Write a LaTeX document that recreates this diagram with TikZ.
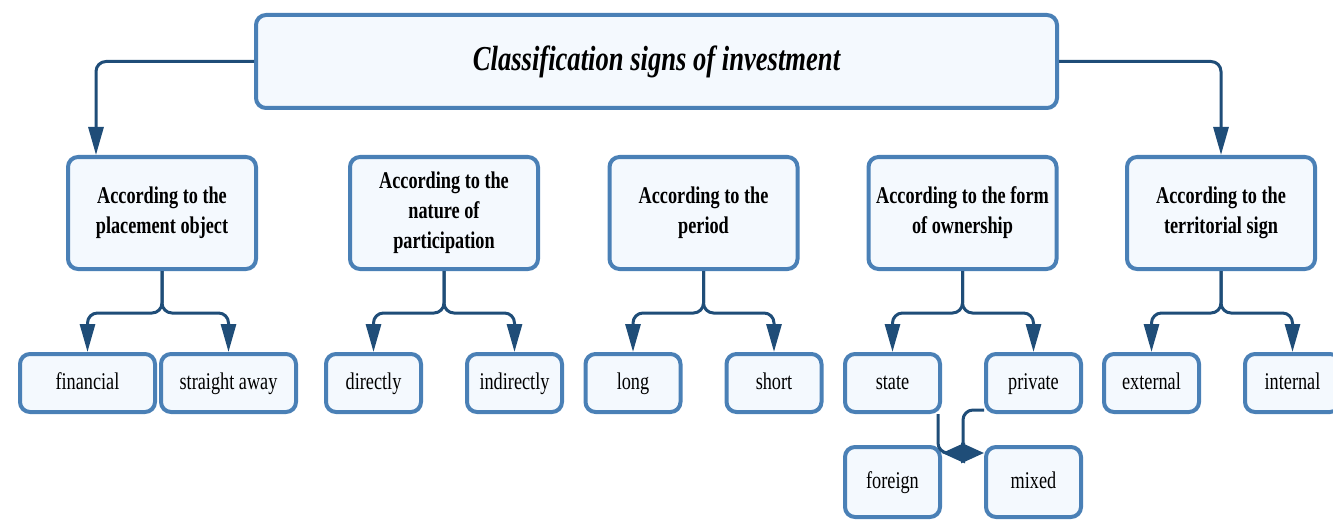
\documentclass[tikz,border=0pt]{standalone}
\usepackage{fontspec}
\setmainfont{Liberation Serif}[FakeStretch=0.76]
\usepackage{tikz}
\usetikzlibrary{positioning}
\usetikzlibrary{arrows.meta}
\definecolor{boxline}{RGB}{74,128,182}
\definecolor{boxfill}{RGB}{244,249,254}
\definecolor{linkline}{RGB}{31,77,120}

\begin{document}
\begin{tikzpicture}[x=0.5pt,y=-0.5pt,
  box/.style={draw=boxline,fill=boxfill,line width=2pt,rounded corners=5pt,align=center,inner sep=0pt},
  head/.style={box,minimum width=94pt,minimum height=56pt,font=\bfseries\fontsize{12}{15}\selectfont},
  leaf/.style={box,minimum width=47.5pt,minimum height=29pt,text height=8.5pt,text depth=2.5pt,font=\fontsize{12}{15}\selectfont},
  link/.style={draw=linkline,line width=1.5pt,rounded corners=5pt,-{Triangle[length=14pt,width=7.5pt]}},
  meet/.style={link,-{Triangle[length=11.5pt,width=10pt]}}]
\useasboundingbox (0,0) rectangle (1333,524);
\node[box,minimum width=400.5pt,minimum height=46.5pt,font=\bfseries\itshape\fontsize{17.5}{21}\selectfont] (title) at (656.5,61.5) {Classification signs of investment};
\node[head] (obj) at (162,213) {According to the\\placement object};
\node[head] (part) at (444,213) {According to the\\nature of\\participation};
\node[head] (per) at (703.5,213) {According to the\\period};
\node[head] (own) at (962.5,213) {According to the form\\of ownership};
\node[head] (terr) at (1221,213) {According to the\\territorial sign};
\node[leaf,minimum width=67.5pt] (fin) at (87.5,383) {financial};
\node[leaf,minimum width=67.5pt,right=1pt of fin] (str) {straight away};
\node[leaf] (dir) at (373.5,383) {directly};
\node[leaf,right=21pt of dir] (ind) {indirectly};
\node[leaf] (long) at (633,383) {long};
\node[leaf,right=21pt of long] (short) {short};
\node[leaf] (state) at (892.5,383) {state};
\node[leaf,right=21pt of state] (priv) {private};
\node[leaf] (ext) at (1151.5,383) {external};
\node[leaf,right=21pt of ext] (int) {internal};
\node[leaf,minimum height=35pt,below=15.5pt of state] (for) {foreign};
\node[leaf,minimum height=35pt,below=15.5pt of priv] (mix) {mixed};
\coordinate (fm) at (963,453);
\draw[link] (title.west) -| ([xshift=-33pt]obj.north);
\draw[link] (title.east) -| (terr.north);
\foreach \p/\a/\b in {obj/fin/str,part/dir/ind,per/long/short,own/state/priv,terr/ext/int}{
  \draw[link] (\p.south) -- ++(0pt,-21pt) -| (\a.north);
  \draw[link] (\p.south) -- ++(0pt,-21pt) -| (\b.north);
}
\draw[meet] ([xshift=-2pt]state.south east) |- (fm -| mix.west);
\draw[meet] ([yshift=2pt]priv.south west) -| (fm) [sharp corners] -- (fm -| for.east);
\end{tikzpicture}
\end{document}
